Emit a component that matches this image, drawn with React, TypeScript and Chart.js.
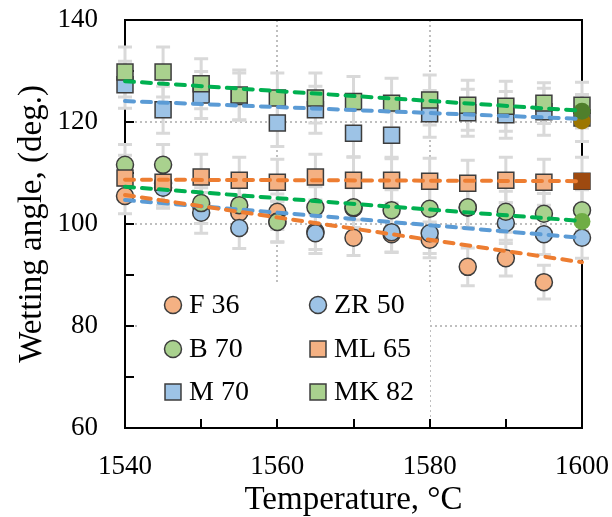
import React, { useEffect, useRef } from 'react';
import { Chart, registerables } from 'chart.js';

Chart.register(...registerables);

// ---------- data ----------
const TEMPS = [1540, 1545, 1550, 1555, 1560, 1565, 1570, 1575, 1580, 1585, 1590, 1595, 1600];

const F36 = [105.5, 108.0, 103.6, 102.2, 102.4, 98.5, 97.3, 98.0, 96.9, 91.6, 93.3, 88.6, null];
const ZR50 = [null, 107.1, 102.2, 99.2, 100.5, 98.2, 103.1, 98.4, 98.2, 103.2, 100.2, 98.0, 97.3];
const B70 = [111.6, 111.6, 104.1, 103.7, 100.4, 103.3, 103.3, 102.7, 103.0, 103.3, 102.4, 102.0, 102.7];
const ML65 = [109.0, 108.2, 109.2, 108.6, 108.2, 109.2, 108.6, 108.6, 108.4, 108.0, 108.6, 108.2, 108.4];
const M70 = [127.3, 122.4, 125.3, 125.0, 119.8, 122.4, 117.8, 117.4, 121.6, 121.8, 121.4, 122.0, 120.8];
const MK82 = [129.8, 129.8, 127.5, 125.3, 124.7, 124.7, 124.0, 123.7, 124.3, 123.3, 123.1, 123.7, 123.3];

const F36_ERR = [3.5, 3.5, 3.5, 3.5, 3.5, 3.5, 3.5, 3.5, 3.5, 3.7, 3.5, 3.3, 0];
const ZR50_ERR = [0, 4, 4, 4, 4, 4, 4, 4, 4, 4, 4, 4, 4];
const B70_ERR = [4, 4, 4, 4, 4, 4, 4, 4, 4, 4, 4, 4, 4];
const ML65_ERR = [4.5, 4.5, 4.5, 4.5, 4.5, 4.5, 4.5, 4.5, 4.5, 4.5, 4.5, 4.5, 4.7];
const M70_ERR = [4.6, 4.6, 4.6, 4.6, 4.6, 4.6, 4.6, 4.6, 4.6, 4.6, 4.6, 4.6, 4.6];
const MK82_ERR = [4.9, 4.9, 4.9, 4.9, 4.9, 4.9, 4.9, 4.9, 4.9, 4.9, 4.9, 4.0, 4.5];

const TREND_X = [1540, 1600];
const F36_TREND = [105.7, 92.5];
const ZR50_TREND = [104.7, 97.3];
const B70_TREND = [107.3, 100.6];
const ML65_TREND = [108.7, 108.4];
const M70_TREND = [124.1, 120.6];
const MK82_TREND = [128.0, 122.2];

const HIGHLIGHT_X = [1600, 1600, 1600, 1600];
const HIGHLIGHT_Y = [120.2, 122.1, 108.4, 100.5];

const X_TICKS_MINOR = [1540, 1550, 1560, 1570, 1580, 1590, 1600];
const Y_TICKS_MINOR = [60, 70, 80, 90, 100, 110, 120, 130, 140];
const X_GRID = [1560, 1580];
const Y_GRID = [80, 100, 120];

// ---------- styles ----------
const FONT = "'Liberation Serif', 'Times New Roman', serif";
const SERIES = [
  { label: 'F 36', data: F36, err: F36_ERR, trend: F36_TREND, fill: '#f4b183', line: '#ed7d31', style: 'circle' },
  { label: 'ZR 50', data: ZR50, err: ZR50_ERR, trend: ZR50_TREND, fill: '#9dc3e6', line: '#5b9bd5', style: 'circle' },
  { label: 'B 70', data: B70, err: B70_ERR, trend: B70_TREND, fill: '#a9d18e', line: '#00b050', style: 'circle' },
  { label: 'ML 65', data: ML65, err: ML65_ERR, trend: ML65_TREND, fill: '#f4b183', line: '#ed7d31', style: 'rect' },
  { label: 'M 70', data: M70, err: M70_ERR, trend: M70_TREND, fill: '#9dc3e6', line: '#5b9bd5', style: 'rect' },
  { label: 'MK 82', data: MK82, err: MK82_ERR, trend: MK82_TREND, fill: '#a9d18e', line: '#00b050', style: 'rect' },
];
const HIGHLIGHT_COLORS = ['#9c7600', '#4f7f2b', '#9e4a10', '#6fad45'];
const HIGHLIGHT_STYLES = ['circle', 'circle', 'rect', 'circle'];
const HIGHLIGHT_RADII = [8.5, 8.5, 11.5, 8.5];

const MARKER_BORDER = '#3d3d3d';
const CIRCLE_R = 8.5;
const RECT_R = 11.3;

function drawMarker(ctx: CanvasRenderingContext2D, style: string, x: number, y: number, fill: string) {
  ctx.save();
  ctx.fillStyle = fill;
  ctx.strokeStyle = MARKER_BORDER;
  ctx.lineWidth = 1.5;
  ctx.beginPath();
  if (style === 'circle') {
    ctx.arc(x, y, CIRCLE_R, 0, Math.PI * 2);
  } else {
    const s = RECT_R * Math.SQRT1_2;
    ctx.rect(x - s, y - s, 2 * s, 2 * s);
  }
  ctx.fill();
  ctx.stroke();
  ctx.restore();
}

const decorPlugin = {
  id: 'decor',
  beforeDatasetsDraw(chart: any) {
    const { ctx, chartArea: a, scales } = chart;
    const xs = scales.x;
    const ys = scales.y;
    ctx.save();
    // dotted grid
    ctx.strokeStyle = '#bfbfbf';
    ctx.lineWidth = 2;
    ctx.setLineDash([2, 3]);
    for (const v of X_GRID) {
      const px = Math.round(xs.getPixelForValue(v));
      ctx.beginPath();
      ctx.moveTo(px, a.top);
      ctx.lineTo(px, a.bottom);
      ctx.stroke();
    }
    for (const v of Y_GRID) {
      const py = Math.round(ys.getPixelForValue(v));
      ctx.beginPath();
      ctx.moveTo(a.left, py);
      ctx.lineTo(a.right, py);
      ctx.stroke();
    }
    ctx.setLineDash([]);
    // legend background
    ctx.fillStyle = '#ffffff';
    ctx.fillRect(a.left + 15, a.top + 263, 290, a.bottom - a.top - 264);
    // frame
    ctx.strokeStyle = '#000';
    ctx.lineWidth = 2;
    ctx.strokeRect(a.left, a.top, a.right - a.left, a.bottom - a.top);
    // inner ticks
    ctx.beginPath();
    for (const v of X_TICKS_MINOR) {
      const px = Math.round(xs.getPixelForValue(v));
      ctx.moveTo(px, a.bottom);
      ctx.lineTo(px, a.bottom - 9);
    }
    for (const v of Y_TICKS_MINOR) {
      const py = Math.round(ys.getPixelForValue(v));
      ctx.moveTo(a.left, py);
      ctx.lineTo(a.left + 9, py);
    }
    ctx.stroke();
    // error bars
    ctx.strokeStyle = '#d9d9d9';
    ctx.lineWidth = 3;
    ctx.lineCap = 'butt';
    for (const s of SERIES) {
      s.data.forEach((v: number | null, i: number) => {
        if (v === null || !s.err[i]) return;
        const px = xs.getPixelForValue(TEMPS[i]);
        const top = ys.getPixelForValue(v + s.err[i]);
        const bot = ys.getPixelForValue(v - s.err[i]);
        ctx.beginPath();
        ctx.moveTo(px, top);
        ctx.lineTo(px, bot);
        ctx.moveTo(px - 7, top);
        ctx.lineTo(px + 7, top);
        ctx.moveTo(px - 7, bot);
        ctx.lineTo(px + 7, bot);
        ctx.stroke();
      });
    }
    ctx.restore();
  },
  afterDatasetsDraw(chart: any) {
    const { ctx, chartArea: a } = chart;
    const colX = [a.left + 48, a.left + 193];
    const rowY = [a.top + 285, a.top + 329, a.top + 372];
    ctx.save();
    ctx.font = `28px ${FONT}`;
    ctx.fillStyle = '#000';
    ctx.textBaseline = 'middle';
    ctx.textAlign = 'left';
    SERIES.forEach((s, i) => {
      const cx = colX[i % 2];
      const cy = rowY[Math.floor(i / 2)];
      drawMarker(ctx, s.style, cx, cy, s.fill);
      ctx.fillStyle = '#000';
      ctx.fillText(s.label, cx + 16, cy + 1);
    });
    ctx.restore();
  },
};

export default function App() {
  const ref = useRef<HTMLCanvasElement | null>(null);

  useEffect(() => {
    if (!ref.current) return;
    const n = SERIES.length;
    const pointSets = SERIES.map((s, i) => ({
      type: 'scatter' as const,
      label: s.label,
      data: TEMPS.map((t, j) => ({ x: t, y: s.data[j] })).filter((p) => p.y !== null),
      pointStyle: s.style,
      pointRadius: s.style === 'circle' ? CIRCLE_R : RECT_R,
      pointBackgroundColor: s.fill,
      pointBorderColor: MARKER_BORDER,
      pointBorderWidth: 1.5,
      showLine: false,
      clip: false as any,
      order: n - i + 1,
    }));
    const highlightSet = {
      type: 'scatter' as const,
      label: 'highlight',
      data: HIGHLIGHT_X.map((x, j) => ({ x, y: HIGHLIGHT_Y[j] })),
      pointStyle: HIGHLIGHT_STYLES,
      pointRadius: HIGHLIGHT_RADII,
      pointBackgroundColor: HIGHLIGHT_COLORS,
      pointBorderWidth: 0,
      showLine: false,
      clip: false as any,
      order: 1,
    };
    const trendSets = SERIES.map((s) => ({
      type: 'line' as const,
      label: s.label + ' trend',
      data: TREND_X.map((x, j) => ({ x, y: s.trend[j] })),
      borderColor: s.line,
      borderWidth: 4,
      borderDash: [9, 8],
      borderCapStyle: 'round' as const,
      pointRadius: 0,
      showLine: true,
      fill: false,
      clip: false as any,
      order: 0,
    }));

    const chart = new Chart(ref.current, {
      type: 'scatter',
      data: { datasets: [...trendSets, highlightSet, ...pointSets] as any },
      options: {
        animation: false,
        responsive: false,
        devicePixelRatio: 1,
        layout: { padding: { top: 20, right: 30, left: 0, bottom: 0 } },
        plugins: { legend: { display: false }, tooltip: { enabled: false } },
        scales: {
          x: {
            type: 'linear',
            min: 1540,
            max: 1600,
            grid: { display: false, drawTicks: false },
            border: { display: false },
            ticks: {
              stepSize: 20,
              color: '#000',
              padding: 23,
              font: { family: FONT, size: 27 },
              callback: (v: any) => String(v),
            },
            title: {
              display: true,
              text: 'Temperature, °C',
              color: '#000',
              font: { family: FONT, size: 33, lineHeight: 1 },
              padding: { top: 0, bottom: 0 },
            },
            afterFit: (scale: any) => {
              scale.height = 89;
              scale.paddingLeft = 0;
              scale.paddingRight = 0;
            },
          },
          y: {
            type: 'linear',
            min: 60,
            max: 140,
            grid: { display: false, drawTicks: false },
            border: { display: false },
            ticks: {
              stepSize: 20,
              color: '#000',
              padding: 27,
              font: { family: FONT, size: 27 },
              callback: (v: any) => String(v),
            },
            title: {
              display: true,
              text: 'Wetting angle, (deg.)',
              color: '#000',
              font: { family: FONT, size: 33, lineHeight: 1 },
              padding: { top: 16, bottom: 16 },
            },
            afterFit: (scale: any) => {
              scale.width = 125;
              scale.paddingTop = 0;
              scale.paddingBottom = 0;
            },
          },
        },
      },
      plugins: [decorPlugin],
    });
    return () => chart.destroy();
  }, []);

  return (
    <div style={{ position: 'absolute', left: 0, top: 0, width: 612, height: 517, background: '#fff' }}>
      <canvas ref={ref} width={612} height={517} style={{ width: 612, height: 517 }} />
    </div>
  );
}
